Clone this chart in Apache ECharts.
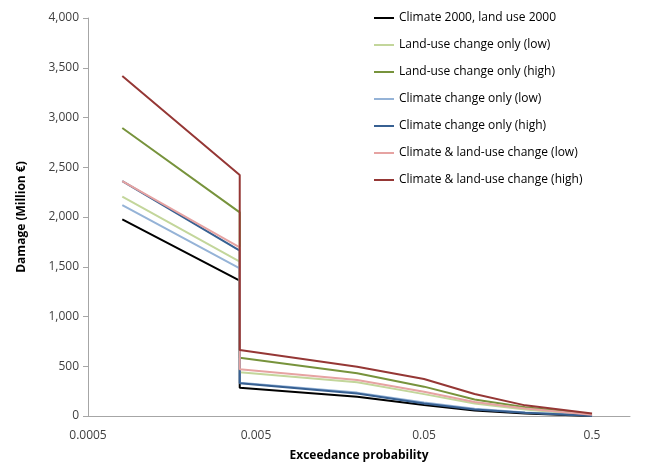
<!DOCTYPE html>
<html>
<head>
<meta charset="utf-8">
<script src="https://cdn.jsdelivr.net/npm/echarts@6/dist/echarts.min.js"></script>
<style>html,body{margin:0;padding:0;background:#fff}#c{width:646px;height:464px}</style>
</head>
<body>
<div id="c"></div>
<script>
var probabilities = [0.0008, 0.004, 0.004, 0.02, 0.05, 0.1, 0.2, 0.5];
var seriesNames = [
  'Climate 2000, land use 2000',
  'Land-use change only (low)',
  'Land-use change only (high)',
  'Climate change only (low)',
  'Climate change only (high)',
  'Climate & land-use change (low)',
  'Climate & land-use change (high)'
];
var base2000      = [1977, 1360, 285, 194, 110, 55, 25, 0];
var landUseLow    = [2204, 1551, 439, 339, 220, 125, 65, 8];
var landUseHigh   = [2894, 2047, 586, 429, 295, 165, 87, 17];
var climateLow    = [2120, 1484, 335, 235, 135, 72, 36, 4];
var climateHigh   = [2360, 1661, 328, 227, 125, 65, 32, 3];
var bothLow       = [2360, 1695, 469, 362, 244, 140, 75, 12];
var bothHigh      = [3417, 2422, 663, 496, 372, 221, 107, 26];
var xTickLabels = ['0.0005', '0.005', '0.05', '0.5'];
var yMin = 0, yMax = 4000, yStep = 500;

var colors = ['#000000', '#c3d69b', '#77933c', '#95b3d7', '#376092', '#e6a3a2', '#953735'];
var allValues = [base2000, landUseLow, landUseHigh, climateLow, climateHigh, bothLow, bothHigh];
var pMin = 0.0005;
function toX(p){ return Math.log10(p / pMin); }

var series = seriesNames.map(function(name, i){
  return {
    name: name,
    type: 'line',
    symbol: 'none',
    smooth: false,
    lineStyle: {width: 2, color: colors[i]},
    itemStyle: {color: colors[i]},
    data: allValues[i].map(function(v, j){ return [toX(probabilities[j]), v]; })
  };
});

var chart = echarts.init(document.getElementById('c'));
var font = 'Open Sans';
chart.setOption({
  animation: false,
  color: colors,
  grid: {left: 88, right: 16, top: 18, bottom: 48, containLabel: false, outerBoundsMode: 'none'},
  legend: {
    orient: 'vertical',
    left: 369, top: 7,
    icon: 'rect',
    itemWidth: 20, itemHeight: 2,
    itemGap: 15,
    textStyle: {fontFamily: font, fontSize: 12, color: '#000'},
    data: seriesNames
  },
  xAxis: {
    type: 'value',
    min: 0, max: 3.226, interval: 1,
    name: 'Exceedance probability',
    nameLocation: 'middle', nameGap: 34,
    nameTextStyle: {fontFamily: font, fontWeight: 'bold', fontSize: 12, color: '#000'},
    axisLine: {show: true, lineStyle: {color: '#a6a6a6', width: 1}},
    axisTick: {show: false},
    splitLine: {show: false},
    axisLabel: {
      fontFamily: font, fontSize: 12, color: '#404040', margin: 14,
      formatter: function(v){
        var k = Math.round(v);
        if (Math.abs(v - k) > 1e-6) return '';
        return xTickLabels[k] || '';
      }
    }
  },
  yAxis: {
    type: 'value',
    min: yMin, max: yMax, interval: yStep,
    name: 'Damage (Million €)',
    nameLocation: 'middle', nameGap: 60, nameRotate: 90,
    nameTextStyle: {fontFamily: font, fontWeight: 'bold', fontSize: 12, color: '#000'},
    axisLine: {show: true, lineStyle: {color: '#a6a6a6', width: 1}},
    axisTick: {show: true, length: 5, lineStyle: {color: '#a6a6a6'}},
    splitLine: {show: false},
    axisLabel: {
      fontFamily: font, fontSize: 12, color: '#404040', margin: 9,
      formatter: function(v){ return v.toLocaleString('en-US'); }
    }
  },
  series: series
});
</script>
</body>
</html>
